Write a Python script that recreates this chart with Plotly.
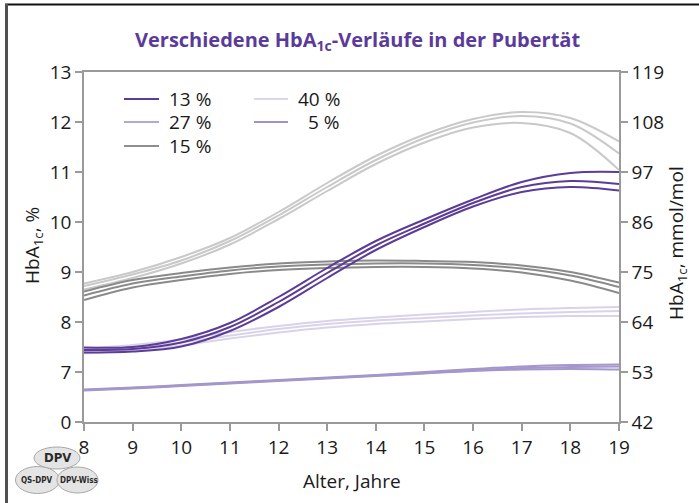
import plotly.graph_objects as go

# Age axis (years)
AGES = [8, 9, 10, 11, 12, 13, 14, 15, 16, 17, 18, 19]

# HbA1c (%) trajectories: each cluster has an upper, middle and lower curve
G13_HI = [7.49, 7.50, 7.66, 7.98, 8.50, 9.08, 9.62, 10.05, 10.45, 10.80, 10.98, 11.00]
G13_MD = [7.44, 7.46, 7.59, 7.90, 8.40, 8.98, 9.53, 9.97, 10.38, 10.70, 10.82, 10.76]
G13_LO = [7.39, 7.41, 7.51, 7.82, 8.30, 8.88, 9.44, 9.90, 10.31, 10.60, 10.70, 10.63]

G27_HI = [8.77, 9.00, 9.30, 9.68, 10.20, 10.78, 11.32, 11.75, 12.06, 12.20, 12.08, 11.61]
G27_MD = [8.72, 8.95, 9.23, 9.62, 10.13, 10.70, 11.24, 11.68, 11.99, 12.12, 11.97, 11.37]
G27_LO = [8.65, 8.88, 9.17, 9.55, 10.06, 10.62, 11.16, 11.59, 11.89, 11.98, 11.78, 11.04]

G15_HI = [8.61, 8.84, 8.98, 9.09, 9.17, 9.21, 9.23, 9.22, 9.20, 9.13, 9.00, 8.79]
G15_MD = [8.53, 8.77, 8.91, 9.03, 9.11, 9.15, 9.17, 9.17, 9.14, 9.07, 8.93, 8.70]
G15_LO = [8.44, 8.69, 8.84, 8.96, 9.04, 9.08, 9.10, 9.10, 9.07, 8.99, 8.83, 8.58]

G40_HI = [7.47, 7.54, 7.65, 7.80, 7.92, 8.02, 8.09, 8.15, 8.20, 8.25, 8.28, 8.30]
G40_MD = [7.42, 7.49, 7.59, 7.73, 7.86, 7.96, 8.03, 8.08, 8.13, 8.17, 8.20, 8.22]
G40_LO = [7.37, 7.44, 7.53, 7.67, 7.79, 7.89, 7.96, 8.01, 8.06, 8.10, 8.12, 8.12]

G05_HI = [6.65, 6.69, 6.74, 6.79, 6.84, 6.89, 6.94, 7.00, 7.06, 7.11, 7.14, 7.15]
G05_MD = [6.64, 6.68, 6.73, 6.78, 6.83, 6.88, 6.93, 6.98, 7.04, 7.08, 7.10, 7.11]
G05_LO = [6.63, 6.67, 6.72, 6.77, 6.82, 6.87, 6.92, 6.97, 7.02, 7.05, 7.06, 7.05]

# Axis ticks: the % axis is broken below 7 (the bottom tick stands for 0)
X_TICKS = list(range(8, 20))
Y_TICKS = [6, 7, 8, 9, 10, 11, 12, 13]
Y_LABELS = ["0", "7", "8", "9", "10", "11", "12", "13"]
MMOL_LABELS = [str(round(10.929 * (v - 2.15))) for v in Y_TICKS]

# Legend labels and colours
LEGEND_COL1 = [("13 %", "#5b3c96"), ("27 %", "#b3a9d6"), ("15 %", "#8e8e8e")]
LEGEND_COL2 = [("40 %", "#dcd7ec"), ("5 %", "#9e92c7")]

GROUPS = [
    ("27 %", "#c9c9c9", [G27_HI, G27_MD, G27_LO]),
    ("15 %", "#8a8a8a", [G15_HI, G15_MD, G15_LO]),
    ("40 %", "#d9d3ea", [G40_HI, G40_MD, G40_LO]),
    ("5 %", "#a397cb", [G05_HI, G05_MD, G05_LO]),
    ("13 %", "#5b3c96", [G13_HI, G13_MD, G13_LO]),
]

FONT = "Open Sans, Noto Sans, sans-serif"
PURPLE = "#5b3b9a"
AXIS = "#9a9a9a"

# Plot area in pixels (used to place decorations in paper coordinates)
W, H = 699, 503
L, R, T, B = 84, 80, 72, 81
PW, PH = W - L - R, H - T - B


def px(xp):
    return (xp - L) / PW


def py(yp):
    return (H - B - yp) / PH


fig = go.Figure()

for name, color, curves in GROUPS:
    for ys in curves:
        fig.add_trace(go.Scatter(
            x=AGES, y=ys, mode="lines", name=name, showlegend=False,
            line=dict(color=color, width=2, shape="spline", smoothing=1.0),
            hoverinfo="skip",
        ))

# Invisible trace to bring up the right-hand mmol/mol axis
fig.add_trace(go.Scatter(x=[None], y=[None], yaxis="y2", showlegend=False))

annotations = []
shapes = []

# Title
annotations.append(dict(
    text="<b>Verschiedene HbA<sub>1c</sub>-Verläufe in der Pubertät</b>",
    x=px(357), y=py(40), xref="paper", yref="paper", showarrow=False,
    xanchor="center", yanchor="middle",
    font=dict(family=FONT, size=20, color=PURPLE),
))

# Axis titles
annotations.append(dict(
    text="HbA<sub>1c</sub>, %", textangle=-90,
    x=px(33), y=py(246), xref="paper", yref="paper", showarrow=False,
    xanchor="center", yanchor="middle", font=dict(family=FONT, size=19, color="#1a1a1a"),
))
annotations.append(dict(
    text="HbA<sub>1c</sub>, mmol/mol", textangle=-90,
    x=px(677), y=py(243), xref="paper", yref="paper", showarrow=False,
    xanchor="center", yanchor="middle", font=dict(family=FONT, size=19, color="#1a1a1a"),
))
annotations.append(dict(
    text="Alter, Jahre",
    x=px(352), y=py(481), xref="paper", yref="paper", showarrow=False,
    xanchor="center", yanchor="middle", font=dict(family=FONT, size=19, color="#1a1a1a"),
))

# Legend (two columns)
ROW_Y = [99, 122, 146]
for (label, color), ry in zip(LEGEND_COL1, ROW_Y):
    shapes.append(dict(type="line", xref="paper", yref="paper",
                       x0=px(124), x1=px(159), y0=py(ry), y1=py(ry),
                       line=dict(color=color, width=2)))
    annotations.append(dict(text=label, x=px(213), y=py(ry), xref="paper", yref="paper",
                            showarrow=False, xanchor="right", yanchor="middle",
                            font=dict(family=FONT, size=19, color="#1a1a1a")))
for (label, color), ry in zip(LEGEND_COL2, ROW_Y):
    shapes.append(dict(type="line", xref="paper", yref="paper",
                       x0=px(254), x1=px(288), y0=py(ry), y1=py(ry),
                       line=dict(color=color, width=2)))
    annotations.append(dict(text=label, x=px(342), y=py(ry), xref="paper", yref="paper",
                            showarrow=False, xanchor="right", yanchor="middle",
                            font=dict(family=FONT, size=19, color="#1a1a1a")))

# Outer frame (top and left edges)
shapes.append(dict(type="line", xref="paper", yref="paper",
                   x0=px(5), x1=px(699), y0=py(4.5), y1=py(4.5),
                   line=dict(color="#111111", width=2)))
shapes.append(dict(type="line", xref="paper", yref="paper",
                   x0=px(6.5), x1=px(6.5), y0=py(4), y1=py(503),
                   line=dict(color="#505050", width=3)))

# DPV logo: three overlapping ellipses with labels
LOGO_FONT = "DejaVu Sans Condensed, Liberation Sans Narrow, DejaVu Sans, sans-serif"
LOGO = [
    ("DPV", 57, 458, 46, 22, 13, 57),
    ("QS-DPV", 37.5, 480, 44, 27, 8, 36.5),
    ("DPV-Wiss", 77.5, 480, 41, 26, 8, 78.5),
]
for label, cx, cy, w, h, fs, tx in LOGO:
    shapes.append(dict(type="circle", xref="paper", yref="paper",
                       x0=px(cx - w / 2), x1=px(cx + w / 2),
                       y0=py(cy - h / 2), y1=py(cy + h / 2),
                       fillcolor="#e4e4e4", line=dict(color="#a8a8a8", width=1)))
    annotations.append(dict(text="<b>%s</b>" % label, x=px(tx), y=py(cy),
                            xref="paper", yref="paper", showarrow=False,
                            xanchor="center", yanchor="middle",
                            font=dict(family=LOGO_FONT, size=fs, color="#2a2a2a")))

tick_font = dict(family=FONT, size=19, color="#1a1a1a")

fig.update_layout(
    width=W, height=H,
    margin=dict(l=L, r=R, t=T, b=B, pad=0),
    paper_bgcolor="white", plot_bgcolor="white",
    showlegend=False,
    xaxis=dict(range=[8, 19], tickvals=X_TICKS, ticks="outside", ticklen=7,
               tickcolor=AXIS, tickwidth=1.5, showline=True, linecolor=AXIS,
               linewidth=1.5, mirror=True, showgrid=False, zeroline=False,
               tickfont=tick_font),
    yaxis=dict(range=[6, 13], tickvals=Y_TICKS, ticktext=Y_LABELS,
               ticks="outside", ticklen=7, tickcolor=AXIS, tickwidth=1.5,
               showline=True, linecolor=AXIS, linewidth=1.5, showgrid=False,
               zeroline=False, tickfont=tick_font),
    yaxis2=dict(range=[6, 13], tickvals=Y_TICKS, ticktext=MMOL_LABELS,
                overlaying="y", side="right", ticks="outside", ticklen=7,
                tickcolor=AXIS, tickwidth=1.5, showline=True, linecolor=AXIS,
                linewidth=1.5, showgrid=False, zeroline=False, tickfont=tick_font),
    annotations=annotations,
    shapes=shapes,
)

fig.write_html("out.html")
